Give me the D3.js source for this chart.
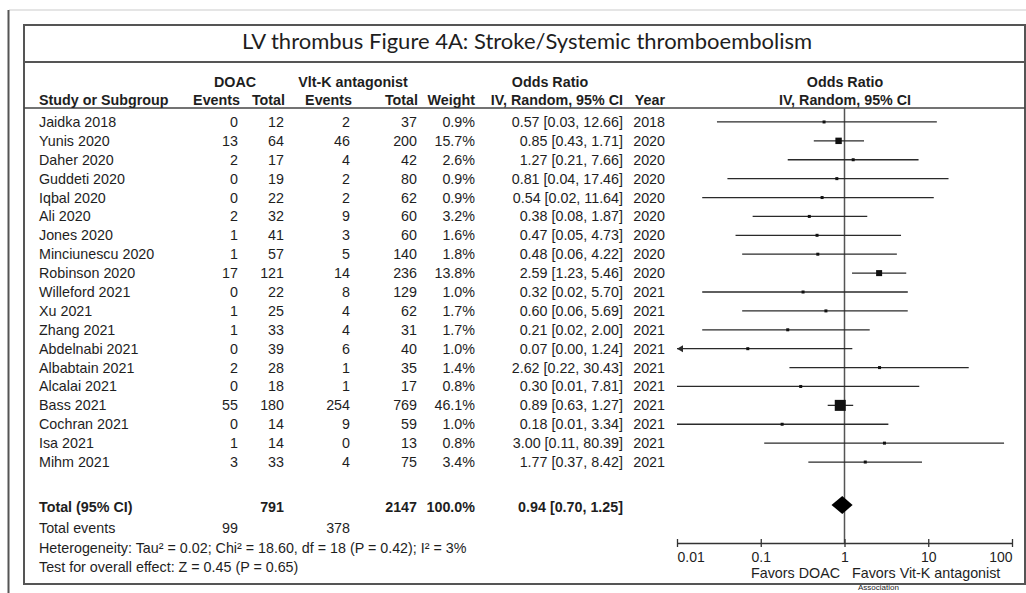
<!DOCTYPE html>
<html>
<meta charset="UTF-8">
<script src="https://d3js.org/d3.v7.min.js"></script>
<style>
    body {
        margin: 0;
        background: #fff;
    }

    svg {
        display: block;
    }

    text {
        font-family: "Liberation Sans", Arial, sans-serif;
        font-size: 14.3px;
        fill: #1e1e1e;
    }

    text.title {
        font-family: Lato, "Open Sans", sans-serif;
        font-size: 22px;
    }

    text.bold {
        font-weight: bold;
    }

    .frame {
        stroke: #555;
        stroke-width: 2;
        fill: none;
    }

    .ci {
        stroke: #2a2a2a;
        stroke-width: 1.3;
    }

    .axis path,
    .axis line {
        stroke: #333;
        stroke-width: 1.3;
    }
</style>

<body>
    <svg width="1026" height="593"></svg>

    <script>
        // study rows
        var studies = ["Jaidka 2018", "Yunis 2020", "Daher 2020", "Guddeti 2020", "Iqbal 2020", "Ali 2020",
            "Jones 2020", "Minciunescu 2020", "Robinson 2020", "Willeford 2021", "Xu 2021", "Zhang 2021",
            "Abdelnabi 2021", "Albabtain 2021", "Alcalai 2021", "Bass 2021", "Cochran 2021", "Isa 2021", "Mihm 2021"];
        var doacEvents = [0, 13, 2, 0, 0, 2, 1, 1, 17, 0, 1, 1, 0, 2, 0, 55, 0, 1, 3];
        var doacTotal = [12, 64, 17, 19, 22, 32, 41, 57, 121, 22, 25, 33, 39, 28, 18, 180, 14, 14, 33];
        var vkaEvents = [2, 46, 4, 2, 2, 9, 3, 5, 14, 8, 4, 4, 6, 1, 1, 254, 9, 0, 4];
        var vkaTotal = [37, 200, 42, 80, 62, 60, 60, 140, 236, 129, 62, 31, 40, 35, 17, 769, 59, 13, 75];
        var weights = [0.9, 15.7, 2.6, 0.9, 0.9, 3.2, 1.6, 1.8, 13.8, 1.0, 1.7, 1.7, 1.0, 1.4, 0.8, 46.1, 1.0, 0.8, 3.4];
        var oddsRatio = [0.57, 0.85, 1.27, 0.81, 0.54, 0.38, 0.47, 0.48, 2.59, 0.32, 0.60, 0.21, 0.07, 2.62, 0.30, 0.89, 0.18, 3.00, 1.77];
        var ciLow = [0.03, 0.43, 0.21, 0.04, 0.02, 0.08, 0.05, 0.06, 1.23, 0.02, 0.06, 0.02, 0.00, 0.22, 0.01, 0.63, 0.01, 0.11, 0.37];
        var ciHigh = [12.66, 1.71, 7.66, 17.46, 11.64, 1.87, 4.73, 4.22, 5.46, 5.70, 5.69, 2.00, 1.24, 30.43, 7.81, 1.27, 3.34, 80.39, 8.42];
        var years = [2018, 2020, 2020, 2020, 2020, 2020, 2020, 2020, 2020, 2021, 2021, 2021, 2021, 2021, 2021, 2021, 2021, 2021, 2021];

        // pooled result
        var totalDoac = 791, totalVka = 2147, eventsDoac = 99, eventsVka = 378;
        var pooled = [0.94, 0.70, 1.25];

        var axisTicks = [0.01, 0.1, 1, 10, 100];

        var rows = studies.map((s, i) => ({
            name: s, de: doacEvents[i], dt: doacTotal[i], ve: vkaEvents[i], vt: vkaTotal[i],
            w: weights[i], or: oddsRatio[i], lo: ciLow[i], hi: ciHigh[i], year: years[i]
        }));

        const svg = d3.select("svg");
        const fmt = d3.format(".2f");

        // frames
        svg.append("line").attr("x1", 9).attr("x2", 1026).attr("y1", 10).attr("y2", 10)
            .attr("stroke", "#ddd").attr("stroke-width", 1.5);
        svg.append("line").attr("x1", 8.5).attr("x2", 8.5).attr("y1", 10).attr("y2", 593)
            .attr("stroke", "#555").attr("stroke-width", 2);
        svg.append("rect").attr("class", "frame").attr("x", 24).attr("y", 25).attr("width", 1001).attr("height", 37);
        svg.append("rect").attr("class", "frame").attr("x", 24).attr("y", 62).attr("width", 1001).attr("height", 522);
        svg.append("line").attr("x1", 24).attr("x2", 1025).attr("y1", 108).attr("y2", 108)
            .attr("stroke", "#444").attr("stroke-width", 1.5);

        svg.append("text").attr("class", "title").attr("x", 527).attr("y", 49).attr("text-anchor", "middle")
            .text("LV thrombus Figure 4A: Stroke/Systemic thromboembolism");

        // header
        const header = [
            ["DOAC", 235, 86.5, "middle"], ["Vlt-K antagonist", 353, 86.5, "middle"],
            ["Odds Ratio", 550, 86.5, "middle"], ["Odds Ratio", 845, 86.5, "middle"],
            ["Study or Subgroup", 39, 104.5, "start"], ["Events", 240, 104.5, "end"], ["Total", 285, 104.5, "end"],
            ["Events", 352, 104.5, "end"], ["Total", 418, 104.5, "end"], ["Weight", 475, 104.5, "end"],
            ["IV, Random, 95% CI", 623, 104.5, "end"], ["Year", 665, 104.5, "end"],
            ["IV, Random, 95% CI", 845, 104.5, "middle"]
        ];
        svg.selectAll("text.head").data(header).enter().append("text")
            .attr("class", "head bold")
            .attr("x", d => d[1]).attr("y", d => d[2]).attr("text-anchor", d => d[3])
            .text(d => d[0]);

        // row scale
        const y = d3.scaleBand().domain(studies).range([112.5, 471.5]);
        const yc = s => y(s) + y.bandwidth() / 2;
        const x = d3.scaleLog().domain([0.01, 100]).range([677, 1012]);

        const columns = [
            [d => d.name, 39, "start"],
            [d => d.de, 238, "end"],
            [d => d.dt, 284, "end"],
            [d => d.ve, 350, "end"],
            [d => d.vt, 417, "end"],
            [d => d.w.toFixed(1) + "%", 475, "end"],
            [d => `${fmt(d.or)} [${fmt(d.lo)}, ${fmt(d.hi)}]`, 623, "end"],
            [d => d.year, 665, "end"]
        ];
        const g = svg.append("g");
        columns.forEach(c => {
            g.selectAll(null).data(rows).enter().append("text")
                .attr("x", c[1]).attr("y", d => yc(d.name) + 5)
                .attr("text-anchor", c[2]).text(c[0]);
        });

        // null line
        svg.append("line").attr("x1", x(1)).attr("x2", x(1)).attr("y1", 108).attr("y2", 543)
            .attr("stroke", "#555").attr("stroke-width", 1.5);

        // confidence intervals
        const plot = svg.append("g");
        plot.selectAll("line.ci").data(rows).enter().append("line")
            .attr("class", "ci")
            .attr("x1", d => x(Math.max(d.lo, 0.01))).attr("x2", d => x(Math.min(d.hi, 100)))
            .attr("y1", d => yc(d.name)).attr("y2", d => yc(d.name));
        plot.selectAll("path.arrow").data(rows.filter(d => d.lo < 0.01)).enter().append("path")
            .attr("fill", "#2a2a2a")
            .attr("d", d => {
                const x0 = x(0.01), y0 = yc(d.name);
                return `M${x0},${y0}L${x0 + 6},${y0 - 3.5}L${x0 + 6},${y0 + 3.5}Z`;
            });
        plot.selectAll("rect.sq").data(rows).enter().append("rect")
            .attr("fill", "#111")
            .each(function(d) {
                const s = Math.max(3, 11 * Math.sqrt(d.w / 46.1));
                d3.select(this).attr("x", x(d.or) - s / 2).attr("y", yc(d.name) - s / 2)
                    .attr("width", s).attr("height", s);
            });

        // totals
        const totalY = 512;
        const totals = [
            ["Total (95% CI)", 39, "start", true], [totalDoac, 284, "end", true], [totalVka, 417, "end", true],
            ["100.0%", 475, "end", true], [`${fmt(pooled[0])} [${fmt(pooled[1])}, ${fmt(pooled[2])}]`, 623, "end", true]
        ];
        svg.selectAll(null).data(totals).enter().append("text")
            .attr("class", d => d[3] ? "bold" : null)
            .attr("x", d => d[1]).attr("y", totalY).attr("text-anchor", d => d[2]).text(d => d[0]);

        const notes = [
            ["Total events", 39, 533, "start"], [eventsDoac, 238, 533, "end"], [eventsVka, 350, 533, "end"],
            ["Heterogeneity: Tau\u00b2 = 0.02; Chi\u00b2 = 18.60, df = 18 (P = 0.42); I\u00b2 = 3%", 39, 552.5, "start"],
            ["Test for overall effect: Z = 0.45 (P = 0.65)", 39, 571.5, "start"]
        ];
        svg.selectAll(null).data(notes).enter().append("text")
            .attr("x", d => d[1]).attr("y", d => d[2]).attr("text-anchor", d => d[3]).text(d => d[0]);

        // pooled diamond
        const dy = 505;
        svg.append("path").attr("fill", "#000")
            .attr("d", `M${x(pooled[1])},${dy}L${x(pooled[0])},${dy - 9}L${x(pooled[2])},${dy}L${x(pooled[0])},${dy + 9}Z`);

        // axis
        const ax = svg.append("g").attr("class", "axis").attr("transform", "translate(0,543)")
            .call(d3.axisBottom(x).tickValues(axisTicks).tickFormat(d => String(d)).tickSizeOuter(0).tickSizeInner(0));
        ax.selectAll(".tick line").attr("y1", -4).attr("y2", 4);
        ax.selectAll(".tick text")
            .attr("y", 18.5).attr("dy", 0)
            .attr("text-anchor", (d, i) => i === 0 ? "start" : (i === axisTicks.length - 1 ? "end" : "middle"))
            .style("font-size", "14px").style("font-family", "'Liberation Sans', Arial, sans-serif").attr("fill", "#1e1e1e");
        ax.select(".domain").attr("stroke-width", 1.5);

        svg.append("text").attr("x", 840).attr("y", 578).attr("text-anchor", "end").text("Favors DOAC");
        svg.append("text").attr("x", 852).attr("y", 578).attr("text-anchor", "start").text("Favors Vit-K antagonist");

        svg.append("text").attr("x", 858).attr("y", 590).style("font-size", "8px").attr("fill", "#c4c4c4")
            .text("Association");
    </script>
</body>

</html>
